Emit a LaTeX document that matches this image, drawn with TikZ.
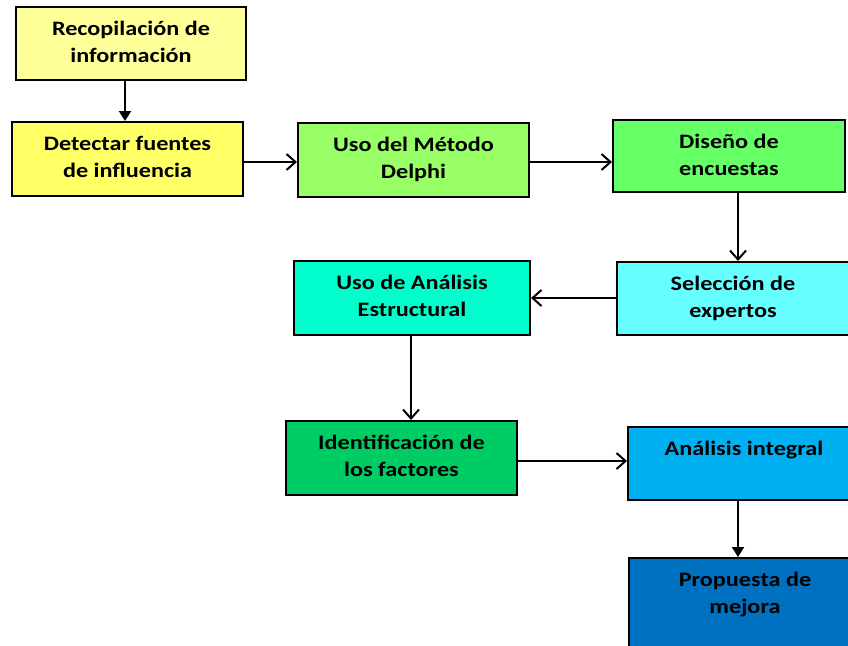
\documentclass[tikz,border=0pt]{standalone}
\usepackage{fontspec}
\setmainfont{Carlito}
\usepackage{graphicx}
\usetikzlibrary{arrows.meta}
\newcommand\hsc[1]{\scalebox{1.18}[1]{#1}}
\newcommand\fst{\rule{0pt}{19pt}}
\definecolor{c1}{HTML}{FFFF99}
\definecolor{c2}{HTML}{FFFF66}
\definecolor{c3}{HTML}{99FF66}
\definecolor{c4}{HTML}{66FF66}
\definecolor{c5}{HTML}{66FFFF}
\definecolor{c6}{HTML}{00FFCC}
\definecolor{c7}{HTML}{00CC66}
\definecolor{c8}{HTML}{00B0F0}
\definecolor{c9}{HTML}{0070C0}
\tikzset{
  box/.style={draw=black, line width=2pt, rectangle, inner sep=0pt, minimum height=73pt},
  txt/.style={anchor=north, inner sep=0pt, align=center, font=\fontsize{20.5}{27}\selectfont\bfseries},
  conn/.style={line width=2pt},
  filledtip/.style={-{Triangle[length=10pt,width=12pt]}},
  opentip/.style={-{Straight Barb[length=9pt,width=16pt,line width=2pt]}}
}
\begin{document}
\begin{tikzpicture}[x=1pt,y=-1pt]
\useasboundingbox (0,0) rectangle (848,645);
\clip (0,0) rectangle (848,645);
\fill[white] (0,0) rectangle (848,645);
% boxes
\node[box, fill=c1, minimum width=230pt, minimum height=73pt] (b1) at (131,43.5) {};
\node[box, fill=c2, minimum width=231pt, minimum height=74pt] (b2) at (127.5,159) {};
\node[box, fill=c3, minimum width=231pt, minimum height=74pt] (b3) at (413.5,160) {};
\node[box, fill=c4, minimum width=232pt, minimum height=72pt] (b4) at (729,156) {};
\node[box, fill=c5, minimum width=232pt, minimum height=73pt] (b5) at (733,298.5) {};
\node[box, fill=c6, minimum width=236pt, minimum height=74pt] (b6) at (412,298) {};
\node[box, fill=c7, minimum width=231pt, minimum height=74pt] (b7) at (401.5,458) {};
\node[box, fill=c8, minimum width=232pt, minimum height=73pt] (b8) at (744,463.5) {};
\node[box, fill=c9, minimum width=232pt, minimum height=100pt] (b9) at (745,608) {};
% texts
\node[txt] (t1) at ([yshift=-10pt]b1.north) {\fst\hsc{Recopilación de}\\\hsc{información}};
\node[txt] (t2) at ([yshift=-10pt]b2.north) {\fst\hsc{Detectar fuentes}\\\hsc{de influencia}};
\node[txt] (t3) at ([yshift=-10pt]b3.north) {\fst\hsc{Uso del Método}\\\hsc{Delphi}};
\node[txt] (t4) at ([yshift=-10pt]b4.north) {\fst\hsc{Diseño de}\\\hsc{encuestas}};
\node[txt] (t5) at ([yshift=-10pt]b5.north) {\fst\hsc{Selección de}\\\hsc{expertos}};
\node[txt] (t6) at ([yshift=-10pt]b6.north) {\fst\hsc{Uso de Análisis}\\\hsc{Estructural}};
\node[txt] (t7) at ([yshift=-10pt]b7.north) {\fst\hsc{Identificación de}\\\hsc{los factores}};
\node[txt] (t8) at ([yshift=-10.5pt]b8.north) {\fst\hsc{Análisis integral}};
\node[txt] (t9) at ([yshift=-10.5pt]b9.north) {\fst\hsc{Propuesta de}\\\hsc{mejora}};
% connector guides
\coordinate (g12) at (125,0);
\coordinate (g23) at (0,162);
\coordinate (g45) at (738,0);
\coordinate (g56) at (0,298);
\coordinate (g67) at (411,0);
\coordinate (g78) at (0,461);
% connectors
\draw[conn, filledtip] (b1.south -| g12) -- (b2.north -| g12);
\draw[conn, opentip] (b2.east |- g23) -- (b3.west |- g23);
\draw[conn, opentip] (b3.east |- g23) -- (b4.west |- g23);
\draw[conn, opentip] (b4.south -| g45) -- (b5.north -| g45);
\draw[conn, opentip] (b5.west |- g56) -- (b6.east |- g56);
\draw[conn, opentip] (b6.south -| g67) -- (b7.north -| g67);
\draw[conn, opentip] (b7.east |- g78) -- (b8.west |- g78);
\draw[conn, filledtip] (b8.south -| g45) -- (b9.north -| g45);
\end{tikzpicture}
\end{document}
